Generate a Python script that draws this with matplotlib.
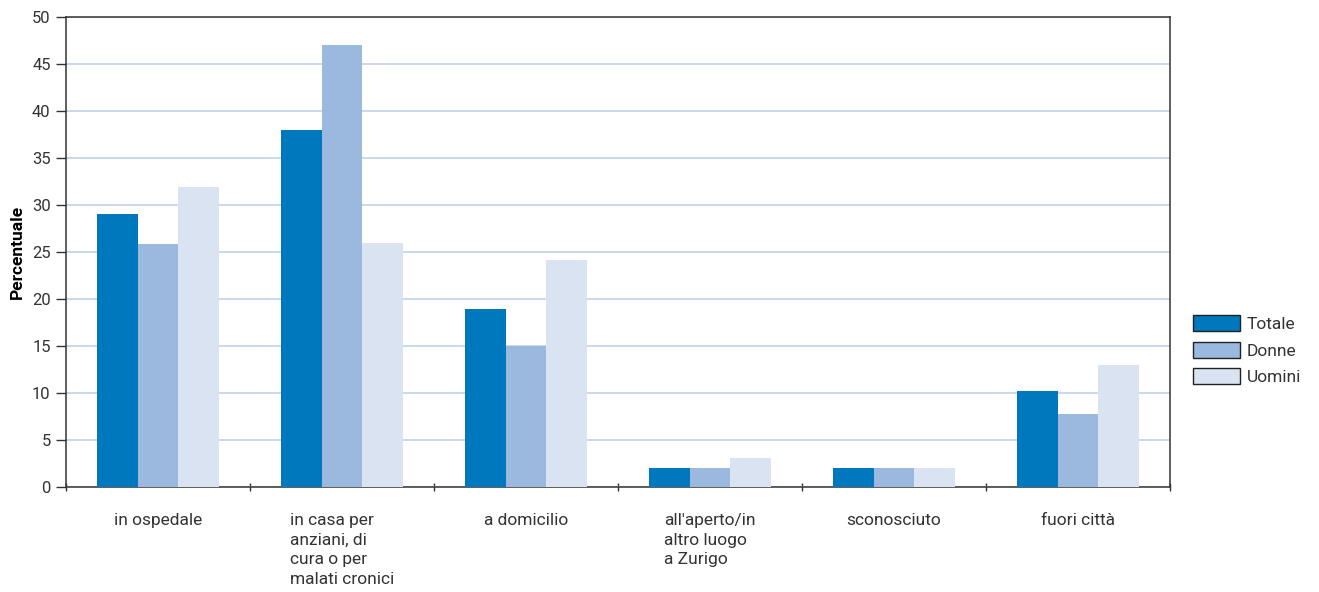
import numpy as np
import matplotlib
matplotlib.use("Agg")
from matplotlib import pyplot as plt

categorie = ["in ospedale",
             "in casa per\nanziani, di\ncura o per\nmalati cronici",
             "a domicilio",
             "all'aperto/in\naltro luogo\na Zurigo",
             "sconosciuto",
             "fuori città"]
totale = [29, 38, 18.9, 2, 2, 10.2]
donne = [25.8, 47, 15, 2, 2, 7.8]
uomini = [31.9, 26, 24.2, 3.1, 2, 13]
serie = ["Totale", "Donne", "Uomini"]
colori = ["#0078BD", "#9BB8DE", "#D9E3F2"]

plt.rcParams['font.family'] = ['Roboto', 'DejaVu Sans']
testo = "#333333"

fig = plt.figure(figsize=(13.19, 5.92), dpi=100)
ax = fig.add_axes([0.05, 0.1774, 0.837, 0.7939])

x = np.arange(len(categorie))
w = 0.222
for i, (vals, nome) in enumerate(zip([totale, donne, uomini], serie)):
    ax.bar(x + (i - 1) * w, vals, width=w, color=colori[i], label=nome,
           zorder=3, linewidth=0)

ax.set_xlim(-0.5, len(categorie) - 0.5)
ax.set_ylim(0, 50)
ax.set_yticks(range(0, 51, 5))
ax.yaxis.grid(True, color="#C6D6EC", linewidth=1.3, zorder=0)
ax.set_axisbelow(True)

# tick sui confini delle categorie, etichette al centro
ax.set_xticks(np.arange(-0.5, len(categorie), 1))
ax.set_xticklabels([])
ax.set_xticks(x, minor=True)
ax.set_xticklabels(categorie, minor=True, fontsize=12.5, color=testo,
                   va="top", ha="center", multialignment="left", linespacing=1.38)
ax.tick_params(axis="x", which="minor", length=0, pad=19)
ax.tick_params(axis="x", which="major", length=6, width=1, color=testo, direction="inout")
ax.tick_params(axis="y", length=7, width=1, color=testo, labelsize=12, labelcolor=testo, pad=4)

for s in ax.spines.values():
    s.set_color(testo)
    s.set_linewidth(1.1)

ax.set_ylabel("Percentuale", fontsize=12.5, fontweight="bold", color="black", labelpad=5)

leg = ax.legend(loc="center left", bbox_to_anchor=(1.021, 0.291), frameon=False,
                fontsize=12.5, handlelength=2.7, handleheight=1.03, labelspacing=0.55,
                handletextpad=0.4, borderaxespad=0, borderpad=0)
for h in leg.legend_handles:
    h.set_edgecolor("#222222")
    h.set_linewidth(1.0)
for t in leg.get_texts():
    t.set_color(testo)

fig.savefig("out.png", dpi=100)
